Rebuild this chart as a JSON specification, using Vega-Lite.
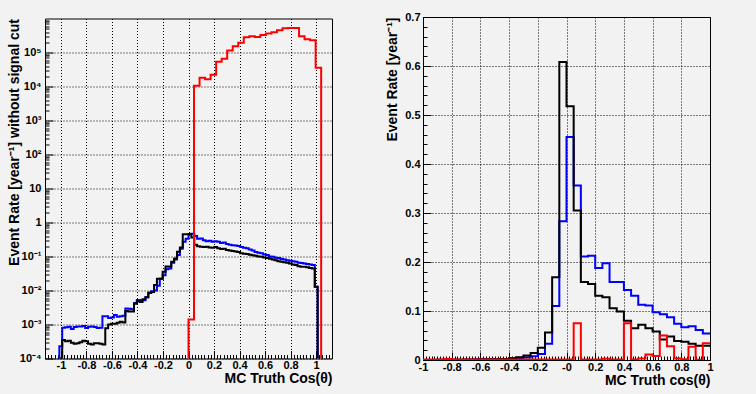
{
  "$schema": "https://vega.github.io/schema/vega-lite/v6.json",
  "background": "#f2f2f2",
  "padding": {"left": 6, "top": 10, "right": 44, "bottom": 9},
  "bounds": "flush",
  "center": true,
  "spacing": 91,
  "datasets": {
    "L": [
      {"x": -1.0125, "black": 0.0001, "blue": 0.0001},
      {"x": -1.0125, "black": 0.0001, "blue": 0.00023},
      {"x": -0.99, "black": 0.00035, "blue": 0.0008},
      {"x": -0.9675, "black": 0.00032, "blue": 0.00083},
      {"x": -0.945, "black": 0.00033, "blue": 0.00086},
      {"x": -0.9225, "black": 0.00029, "blue": 0.00074},
      {"x": -0.9, "black": 0.00027, "blue": 0.00085},
      {"x": -0.8775, "black": 0.00028, "blue": 0.00087},
      {"x": -0.855, "black": 0.0003, "blue": 0.00088},
      {"x": -0.8325, "black": 0.00033, "blue": 0.0009},
      {"x": -0.81, "black": 0.00032, "blue": 0.00079},
      {"x": -0.7875, "black": 0.00027, "blue": 0.00086},
      {"x": -0.765, "black": 0.00026, "blue": 0.00087},
      {"x": -0.7425, "black": 0.00028, "blue": 0.00084},
      {"x": -0.72, "black": 0.00028, "blue": 0.00079},
      {"x": -0.6975, "black": 0.00027, "blue": 0.0008},
      {"x": -0.675, "black": 0.00026, "blue": 0.00175},
      {"x": -0.6525, "black": 0.00078, "blue": 0.00175},
      {"x": -0.63, "black": 0.001, "blue": 0.00155},
      {"x": -0.6075, "black": 0.00105, "blue": 0.0016},
      {"x": -0.585, "black": 0.00105, "blue": 0.0019},
      {"x": -0.5625, "black": 0.00112, "blue": 0.0017},
      {"x": -0.54, "black": 0.0012, "blue": 0.00175},
      {"x": -0.5175, "black": 0.00115, "blue": 0.0018},
      {"x": -0.495, "black": 0.0025, "blue": 0.00295},
      {"x": -0.4725, "black": 0.0024, "blue": 0.0029},
      {"x": -0.45, "black": 0.0024, "blue": 0.0028},
      {"x": -0.4275, "black": 0.0041, "blue": 0.0043},
      {"x": -0.405, "black": 0.0048, "blue": 0.0053},
      {"x": -0.3825, "black": 0.0046, "blue": 0.0053},
      {"x": -0.36, "black": 0.0055, "blue": 0.0052},
      {"x": -0.3375, "black": 0.0063, "blue": 0.0063},
      {"x": -0.315, "black": 0.0085, "blue": 0.0087},
      {"x": -0.2925, "black": 0.009, "blue": 0.0095},
      {"x": -0.27, "black": 0.0144, "blue": 0.01},
      {"x": -0.2475, "black": 0.022, "blue": 0.0137},
      {"x": -0.225, "black": 0.022, "blue": 0.022},
      {"x": -0.2025, "black": 0.0355, "blue": 0.028},
      {"x": -0.18, "black": 0.051, "blue": 0.042},
      {"x": -0.1575, "black": 0.051, "blue": 0.044},
      {"x": -0.135, "black": 0.07, "blue": 0.065},
      {"x": -0.1125, "black": 0.087, "blue": 0.082},
      {"x": -0.09, "black": 0.137, "blue": 0.11},
      {"x": -0.0675, "black": 0.184, "blue": 0.17},
      {"x": -0.045, "black": 0.45, "blue": 0.27},
      {"x": -0.0225, "black": 0.45, "blue": 0.33},
      {"x": 0, "black": 0.46, "blue": 0.46},
      {"x": 0.0225, "black": 0.36, "blue": 0.47},
      {"x": 0.045, "black": 0.22, "blue": 0.4},
      {"x": 0.0675, "black": 0.2, "blue": 0.33},
      {"x": 0.09, "black": 0.195, "blue": 0.34},
      {"x": 0.1125, "black": 0.19, "blue": 0.3},
      {"x": 0.135, "black": 0.195, "blue": 0.28},
      {"x": 0.1575, "black": 0.185, "blue": 0.29},
      {"x": 0.18, "black": 0.18, "blue": 0.27},
      {"x": 0.2025, "black": 0.19, "blue": 0.28},
      {"x": 0.225, "black": 0.175, "blue": 0.27},
      {"x": 0.2475, "black": 0.165, "blue": 0.25},
      {"x": 0.27, "black": 0.17, "blue": 0.26},
      {"x": 0.2925, "black": 0.155, "blue": 0.235},
      {"x": 0.315, "black": 0.15, "blue": 0.22},
      {"x": 0.3375, "black": 0.145, "blue": 0.215},
      {"x": 0.36, "black": 0.14, "blue": 0.21},
      {"x": 0.3825, "black": 0.135, "blue": 0.205},
      {"x": 0.405, "black": 0.125, "blue": 0.19},
      {"x": 0.4275, "black": 0.12, "blue": 0.18},
      {"x": 0.45, "black": 0.118, "blue": 0.175},
      {"x": 0.4725, "black": 0.112, "blue": 0.16},
      {"x": 0.495, "black": 0.108, "blue": 0.15},
      {"x": 0.5175, "black": 0.105, "blue": 0.135},
      {"x": 0.54, "black": 0.1, "blue": 0.13},
      {"x": 0.5625, "black": 0.098, "blue": 0.125},
      {"x": 0.585, "black": 0.094, "blue": 0.115},
      {"x": 0.6075, "black": 0.09, "blue": 0.11},
      {"x": 0.63, "black": 0.086, "blue": 0.1},
      {"x": 0.6525, "black": 0.082, "blue": 0.098},
      {"x": 0.675, "black": 0.078, "blue": 0.092},
      {"x": 0.6975, "black": 0.072, "blue": 0.09},
      {"x": 0.72, "black": 0.07, "blue": 0.085},
      {"x": 0.7425, "black": 0.068, "blue": 0.082},
      {"x": 0.765, "black": 0.066, "blue": 0.078},
      {"x": 0.7875, "black": 0.062, "blue": 0.075},
      {"x": 0.81, "black": 0.058, "blue": 0.072},
      {"x": 0.8325, "black": 0.056, "blue": 0.07},
      {"x": 0.855, "black": 0.052, "blue": 0.066},
      {"x": 0.8775, "black": 0.05, "blue": 0.064},
      {"x": 0.9, "black": 0.05, "blue": 0.062},
      {"x": 0.9225, "black": 0.048, "blue": 0.06},
      {"x": 0.945, "black": 0.046, "blue": 0.058},
      {"x": 0.9675, "black": 0.044, "blue": 0.056},
      {"x": 0.99, "black": 0.013, "blue": 0.013},
      {"x": 1.0125, "black": 0.0001, "blue": 0.0001}
    ],
    "LR": [
      {"x": 0, "red": 0.0001},
      {"x": 0, "red": 0.0014},
      {"x": 0.0433, "red": 10600},
      {"x": 0.0867, "red": 18200},
      {"x": 0.13, "red": 16300},
      {"x": 0.1733, "red": 22200},
      {"x": 0.2167, "red": 53300},
      {"x": 0.26, "red": 65300},
      {"x": 0.3033, "red": 114000},
      {"x": 0.3467, "red": 153000},
      {"x": 0.39, "red": 192000},
      {"x": 0.4333, "red": 281000},
      {"x": 0.4767, "red": 300000},
      {"x": 0.52, "red": 287000},
      {"x": 0.5633, "red": 329000},
      {"x": 0.6067, "red": 360000},
      {"x": 0.65, "red": 393000},
      {"x": 0.6933, "red": 450000},
      {"x": 0.7367, "red": 515000},
      {"x": 0.78, "red": 526000},
      {"x": 0.8233, "red": 526000},
      {"x": 0.8667, "red": 300000},
      {"x": 0.91, "red": 245000},
      {"x": 0.9533, "red": 229000},
      {"x": 0.9967, "red": 35600},
      {"x": 1.04, "red": 0.0001}
    ],
    "R": [
      {"x": -1, "black": 0.0002, "blue": 0.0002, "red": 0.0008},
      {"x": -0.95, "black": 0.0002, "blue": 0.0002, "red": 0.0008},
      {"x": -0.9, "black": 0.0003, "blue": 0.0003, "red": 0.0008},
      {"x": -0.85, "black": 0.0003, "blue": 0.0003, "red": 0.002},
      {"x": -0.8, "black": 0.0004, "blue": 0.0003, "red": 0.0008},
      {"x": -0.75, "black": 0.0005, "blue": 0.0004, "red": 0.0008},
      {"x": -0.7, "black": 0.0012, "blue": 0.0006, "red": 0.0008},
      {"x": -0.65, "black": 0.0012, "blue": 0.0008, "red": 0.0008},
      {"x": -0.6, "black": 0.0013, "blue": 0.0009, "red": 0.0008},
      {"x": -0.55, "black": 0.0014, "blue": 0.001, "red": 0.0008},
      {"x": -0.5, "black": 0.0015, "blue": 0.0012, "red": 0.0008},
      {"x": -0.45, "black": 0.002, "blue": 0.0018, "red": 0.0008},
      {"x": -0.4, "black": 0.0035, "blue": 0.003, "red": 0.0008},
      {"x": -0.35, "black": 0.0055, "blue": 0.004, "red": 0.0008},
      {"x": -0.3, "black": 0.009, "blue": 0.0055, "red": 0.0008},
      {"x": -0.25, "black": 0.0144, "blue": 0.0075, "red": 0.0008},
      {"x": -0.2, "black": 0.025, "blue": 0.012, "red": 0.0008},
      {"x": -0.15, "black": 0.056, "blue": 0.033, "red": 0.0008},
      {"x": -0.1, "black": 0.169, "blue": 0.11, "red": 0.0008},
      {"x": -0.05, "black": 0.608, "blue": 0.283, "red": 0.0008},
      {"x": 0, "black": 0.518, "blue": 0.455, "red": 0.0008},
      {"x": 0.05, "black": 0.305, "blue": 0.356, "red": 0.075},
      {"x": 0.1, "black": 0.159, "blue": 0.211, "red": 0.0008},
      {"x": 0.15, "black": 0.155, "blue": 0.213, "red": 0.0008},
      {"x": 0.2, "black": 0.131, "blue": 0.188, "red": 0.0008},
      {"x": 0.25, "black": 0.128, "blue": 0.1975, "red": 0.0025},
      {"x": 0.3, "black": 0.1055, "blue": 0.159, "red": 0.0008},
      {"x": 0.35, "black": 0.099, "blue": 0.159, "red": 0.0008},
      {"x": 0.4, "black": 0.08, "blue": 0.143, "red": 0.075},
      {"x": 0.45, "black": 0.065, "blue": 0.131, "red": 0.0008},
      {"x": 0.5, "black": 0.072, "blue": 0.113, "red": 0.003},
      {"x": 0.55, "black": 0.065, "blue": 0.111, "red": 0.011},
      {"x": 0.6, "black": 0.058, "blue": 0.0974, "red": 0.008},
      {"x": 0.65, "black": 0.042, "blue": 0.0933, "red": 0.05},
      {"x": 0.7, "black": 0.048, "blue": 0.087, "red": 0.028},
      {"x": 0.75, "black": 0.039, "blue": 0.074, "red": 0.003},
      {"x": 0.8, "black": 0.037, "blue": 0.0667, "red": 0.0015},
      {"x": 0.85, "black": 0.033, "blue": 0.0688, "red": 0.027},
      {"x": 0.9, "black": 0.029, "blue": 0.061, "red": 0.0005},
      {"x": 0.95, "black": 0.029, "blue": 0.054, "red": 0.034},
      {"x": 1, "black": 0.029, "blue": 0.054, "red": 0.034}
    ]
  },
  "hconcat": [
    {
      "width": 287,
      "height": 340,
      "resolve": {"axis": {"x": "independent", "y": "independent"}},
      "layer": [
        {
          "data": {"name": "L"},
          "mark": {"type": "point", "opacity": 0},
          "encoding": {
            "x": {"field": "x", "type": "quantitative", "scale": {"domain": [-1.125, 1.125], "nice": false, "zero": false},
              "axis": {"orient": "bottom", "values": [-1.1,-1.075,-1.05,-1.025,-1,-0.975,-0.95,-0.925,-0.9,-0.875,-0.85,-0.825,-0.8,-0.775,-0.75,-0.725,-0.7,-0.675,-0.65,-0.625,-0.6,-0.575,-0.55,-0.525,-0.5,-0.475,-0.45,-0.425,-0.4,-0.375,-0.35,-0.325,-0.3,-0.275,-0.25,-0.225,-0.2,-0.175,-0.15,-0.125,-0.1,-0.075,-0.05,-0.025,0,0.025,0.05,0.075,0.1,0.125,0.15,0.175,0.2,0.225,0.25,0.275,0.3,0.325,0.35,0.375,0.4,0.425,0.45,0.475,0.5,0.525,0.55,0.575,0.6,0.625,0.65,0.675,0.7,0.725,0.75,0.775,0.8,0.825,0.85,0.875,0.9,0.925,0.95,0.975,1,1.025,1.05,1.075,1.1],
                "tickSize": -4, "labels": false, "grid": false, "domain": false, "title": null}},
            "y": {"field": "blue", "type": "quantitative", "scale": {"type": "log", "domain": [0.0001, 1000000], "nice": false},
              "axis": {"orient": "left", "values": [0.0002,0.0003,0.0004,0.0005,0.0006,0.0007,0.0008,0.0009,0.002,0.003,0.004,0.005,0.006,0.007,0.008,0.009,0.02,0.03,0.04,0.05,0.06,0.07,0.08,0.09,0.2,0.3,0.4,0.5,0.6,0.7,0.8,0.9,2,3,4,5,6,7,8,9,20,30,40,50,60,70,80,90,200,300,400,500,600,700,800,900,2000,3000,4000,5000,6000,7000,8000,9000,20000,30000,40000,50000,60000,70000,80000,90000,200000,300000,400000,500000,600000,700000,800000,900000],
                "tickSize": -4, "labels": false, "grid": false, "domain": false, "title": null}}
          }
        },
        {
          "data": {"name": "L"},
          "mark": {"type": "line", "interpolate": "step-after", "color": "#0000ff", "strokeWidth": 2, "clip": true},
          "encoding": {
            "x": {"field": "x", "type": "quantitative", "scale": {"domain": [-1.125, 1.125], "nice": false, "zero": false},
              "axis": {"orient": "bottom", "values": [-1,-0.8,-0.6,-0.4,-0.2,0,0.2,0.4,0.6,0.8,1], "tickSize": -8, "labelPadding": 9,
                "labelExpr": "'' + datum.value", "grid": true,
                "title": "MC Truth Cos(θ)", "titleAnchor": "end", "titleAlign": "right", "titleFontSize": 14, "titleY": 24, "titleBaseline": "alphabetic"}},
            "y": {"field": "blue", "type": "quantitative", "scale": {"type": "log", "domain": [0.0001, 1000000], "nice": false},
              "axis": {"orient": "left", "values": [0.0001,0.001,0.01,0.1,1,10,100,1000,10000,100000], "tickSize": -8, "labelPadding": 12,
                "labelExpr": "['10⁻⁴','10⁻³','10⁻²','10⁻¹','1','10','10²','10³','10⁴','10⁵','10⁶'][round(log(datum.value)/LN10)+4]",
                "grid": true,
                "title": "Event Rate [year⁻¹] without signal cut", "titleAnchor": "end", "titleAlign": "right", "titleAngle": -90, "titleFontSize": 14, "titleX": -27, "titleY": 0, "titleBaseline": "alphabetic"}}
          }
        },
        {
          "data": {"name": "L"},
          "mark": {"type": "line", "interpolate": "step-after", "color": "#000000", "strokeWidth": 2, "clip": true},
          "encoding": {
            "x": {"field": "x", "type": "quantitative", "scale": {"domain": [-1.125, 1.125], "nice": false, "zero": false}, "axis": null},
            "y": {"field": "black", "type": "quantitative", "scale": {"type": "log", "domain": [0.0001, 1000000], "nice": false}, "axis": null}
          }
        },
        {
          "data": {"name": "LR"},
          "mark": {"type": "line", "interpolate": "step-after", "color": "#ff0000", "strokeWidth": 2, "clip": true},
          "encoding": {
            "x": {"field": "x", "type": "quantitative", "scale": {"domain": [-1.125, 1.125], "nice": false, "zero": false}, "axis": null},
            "y": {"field": "red", "type": "quantitative", "scale": {"type": "log", "domain": [0.0001, 1000000], "nice": false}, "axis": null}
          }
        }
      ]
    },
    {
      "width": 287,
      "height": 343,
      "resolve": {"axis": {"x": "independent", "y": "independent"}},
      "layer": [
        {
          "data": {"name": "R"},
          "mark": {"type": "point", "opacity": 0},
          "encoding": {
            "x": {"field": "x", "type": "quantitative", "scale": {"domain": [-1, 1], "nice": false, "zero": false},
              "axis": {"orient": "bottom", "tickCount": 100, "tickSize": -4, "labels": false, "grid": false, "domain": false, "title": null}},
            "y": {"field": "blue", "type": "quantitative", "scale": {"domain": [0, 0.7], "nice": false},
              "axis": {"orient": "left", "tickCount": 35, "tickSize": -4, "labels": false, "grid": false, "domain": false, "title": null}}
          }
        },
        {
          "data": {"name": "R"},
          "mark": {"type": "line", "interpolate": "step-after", "color": "#0000ff", "strokeWidth": 2, "clip": true},
          "encoding": {
            "x": {"field": "x", "type": "quantitative", "scale": {"domain": [-1, 1], "nice": false, "zero": false},
              "axis": {"orient": "bottom", "values": [-1,-0.8,-0.6,-0.4,-0.2,0,0.2,0.4,0.6,0.8,1], "tickSize": -8, "labelPadding": 9,
                "labelExpr": "datum.value == 0 ? '-0' : '' + datum.value", "grid": true,
                "title": "MC Truth cos(θ)", "titleAnchor": "end", "titleAlign": "right", "titleFontSize": 14, "titleY": 24, "titleBaseline": "alphabetic"}},
            "y": {"field": "blue", "type": "quantitative", "scale": {"domain": [0, 0.7], "nice": false},
              "axis": {"orient": "left", "values": [0,0.1,0.2,0.3,0.4,0.5,0.6,0.7], "tickSize": -8, "labelPadding": 11,
                "labelExpr": "'' + datum.value", "grid": true,
                "title": "Event Rate [year⁻¹]", "titleAnchor": "end", "titleAlign": "right", "titleAngle": -90, "titleFontSize": 14, "titleX": -27, "titleY": 0, "titleBaseline": "alphabetic"}}
          }
        },
        {
          "data": {"name": "R"},
          "mark": {"type": "line", "interpolate": "step-after", "color": "#000000", "strokeWidth": 2, "clip": true},
          "encoding": {
            "x": {"field": "x", "type": "quantitative", "scale": {"domain": [-1, 1], "nice": false, "zero": false}, "axis": null},
            "y": {"field": "black", "type": "quantitative", "scale": {"domain": [0, 0.7], "nice": false}, "axis": null}
          }
        },
        {
          "data": {"name": "R"},
          "mark": {"type": "line", "interpolate": "step-after", "color": "#ff0000", "strokeWidth": 2, "clip": true},
          "encoding": {
            "x": {"field": "x", "type": "quantitative", "scale": {"domain": [-1, 1], "nice": false, "zero": false}, "axis": null},
            "y": {"field": "red", "type": "quantitative", "scale": {"domain": [0, 0.7], "nice": false}, "axis": null}
          }
        }
      ]
    }
  ],
  "config": {
    "view": {"stroke": "#000000", "strokeWidth": 1},
    "font": "Liberation Sans",
    "axis": {
      "labelFont": "Liberation Sans", "labelFontSize": 11, "labelFontWeight": "bold", "labelColor": "#000000",
      "labelOverlap": false, "labelFlush": false,
      "titleFont": "Liberation Sans", "titleFontWeight": "bold", "titleColor": "#000000",
      "tickColor": "#000000", "tickWidth": 1,
      "gridColor": "#000000", "gridDash": [1, 2], "gridOpacity": 1, "gridWidth": 1,
      "domain": false
    }
  }
}
